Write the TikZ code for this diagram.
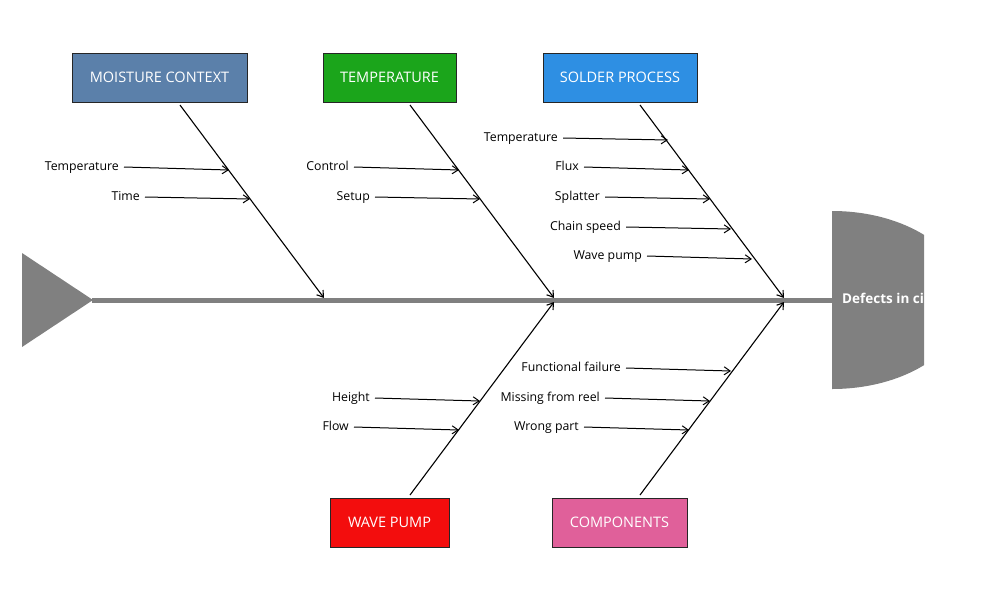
\documentclass[tikz,border=0pt]{standalone}
\usepackage{fontspec}
\setmainfont{Open Sans}
\usetikzlibrary{arrows.meta,calc}
\definecolor{spinegray}{HTML}{808080}
\definecolor{cmoist}{HTML}{5B80AA}
\definecolor{ctemp}{HTML}{1BA51B}
\definecolor{csolder}{HTML}{2E8FE3}
\definecolor{cwave}{HTML}{F30D0D}
\definecolor{ccomp}{HTML}{E0609A}
\tikzset{
  catbox/.style={draw=black!85, line width=1pt, minimum height=49, text=white,
    font=\fontsize{14.5}{16}\selectfont, inner sep=0pt},
  bone/.style={line width=1.1pt, -{Straight Barb[length=6pt,width=8pt]}},
  sub/.style={line width=1pt, -{Straight Barb[length=6pt,width=8pt]}},
  cause/.style={anchor=east, inner xsep=5pt, inner ysep=0pt,
    text height=7pt, text depth=1pt,
    font=\fontsize{12.3}{14}\selectfont},
  spine/.style={line width=5pt, spinegray},
}
\begin{document}
\begin{tikzpicture}[x=1pt,y=-1pt]
\useasboundingbox (0,0) rectangle (1000,600);

% tail and spine
\fill[spinegray] (22,253) -- (93,300) -- (22,347) -- cycle;
\coordinate (tail) at (92,300);
\coordinate (head) at (833,300);
\draw[spine] (tail) -- (head);

% head of the fish
\begin{scope}
  \clip (832,190) rectangle (924,410);
  \fill[spinegray] (832,300) ellipse [x radius=135, y radius=89];
  \node[anchor=west, text=white, inner sep=0pt, font=\fontsize{13.5}{15}\selectfont\bfseries]
    (effect) at (842,298) {Defects in circuit board};
\end{scope}

% category boxes
\node[catbox, fill=cmoist,  minimum width=175] (moist)  at (159.5,77.5) {MOISTURE CONTEXT};
\node[catbox, fill=ctemp,   minimum width=133] (temp)   at (389.5,77.5) {TEMPERATURE};
\node[catbox, fill=csolder, minimum width=154] (solder) at (620,77.5)   {SOLDER PROCESS};
\node[catbox, fill=cwave,   minimum width=119] (wave)   at (389.5,522.5) {WAVE PUMP};
\node[catbox, fill=ccomp,   minimum width=135] (comp)   at (619.5,522.5) {COMPONENTS};

% bone end points on the spine
\coordinate (m0) at (180,105);  \coordinate (m1) at (324,298);
\coordinate (t0) at (410,105);  \coordinate (t1) at (554,298);
\coordinate (s0) at (640,105);  \coordinate (s1) at (784,298);
\coordinate (w0) at (410,495);  \coordinate (w1) at (554,302);
\coordinate (c0) at (640,495);  \coordinate (c1) at (784,302);

\draw[bone] (m0) -- (m1);
\draw[bone] (t0) -- (t1);
\draw[bone] (s0) -- (s1);
\draw[bone] (w0) -- (w1);
\draw[bone] (c0) -- (c1);

% causes: moisture
\node[cause] (mA) at (124,167) {Temperature};
\node[cause] (mB) at (145,197) {Time};
\coordinate (mAt) at (229,170); \coordinate (mBt) at (250,199);
\draw[sub] (mA.east) -- (mAt);
\draw[sub] (mB.east) -- (mBt);

% causes: temperature
\node[cause] (tA) at (354,167) {Control};
\node[cause] (tB) at (375,197) {Setup};
\coordinate (tAt) at (459,170); \coordinate (tBt) at (480,199);
\draw[sub] (tA.east) -- (tAt);
\draw[sub] (tB.east) -- (tBt);

% causes: solder process
\node[cause] (sA) at (563,138) {Temperature};
\node[cause] (sB) at (584,167) {Flux};
\node[cause] (sC) at (605,197) {Splatter};
\node[cause] (sD) at (626,227) {Chain speed};
\node[cause] (sE) at (647,256) {Wave pump};
\coordinate (sAt) at (668,140); \coordinate (sBt) at (689,170);
\coordinate (sCt) at (710,199); \coordinate (sDt) at (731,229);
\coordinate (sEt) at (752,259);
\draw[sub] (sA.east) -- (sAt);
\draw[sub] (sB.east) -- (sBt);
\draw[sub] (sC.east) -- (sCt);
\draw[sub] (sD.east) -- (sDt);
\draw[sub] (sE.east) -- (sEt);

% causes: wave pump
\node[cause] (wA) at (375,398) {Height};
\node[cause] (wB) at (354,427) {Flow};
\coordinate (wAt) at (480,401); \coordinate (wBt) at (459,430);
\draw[sub] (wA.east) -- (wAt);
\draw[sub] (wB.east) -- (wBt);

% causes: components
\node[cause] (cA) at (626,368) {Functional failure};
\node[cause] (cB) at (605,398) {Missing from reel};
\node[cause] (cC) at (584,427) {Wrong part};
\coordinate (cAt) at (731,371); \coordinate (cBt) at (710,401);
\coordinate (cCt) at (689,430);
\draw[sub] (cA.east) -- (cAt);
\draw[sub] (cB.east) -- (cBt);
\draw[sub] (cC.east) -- (cCt);
\end{tikzpicture}
\end{document}
